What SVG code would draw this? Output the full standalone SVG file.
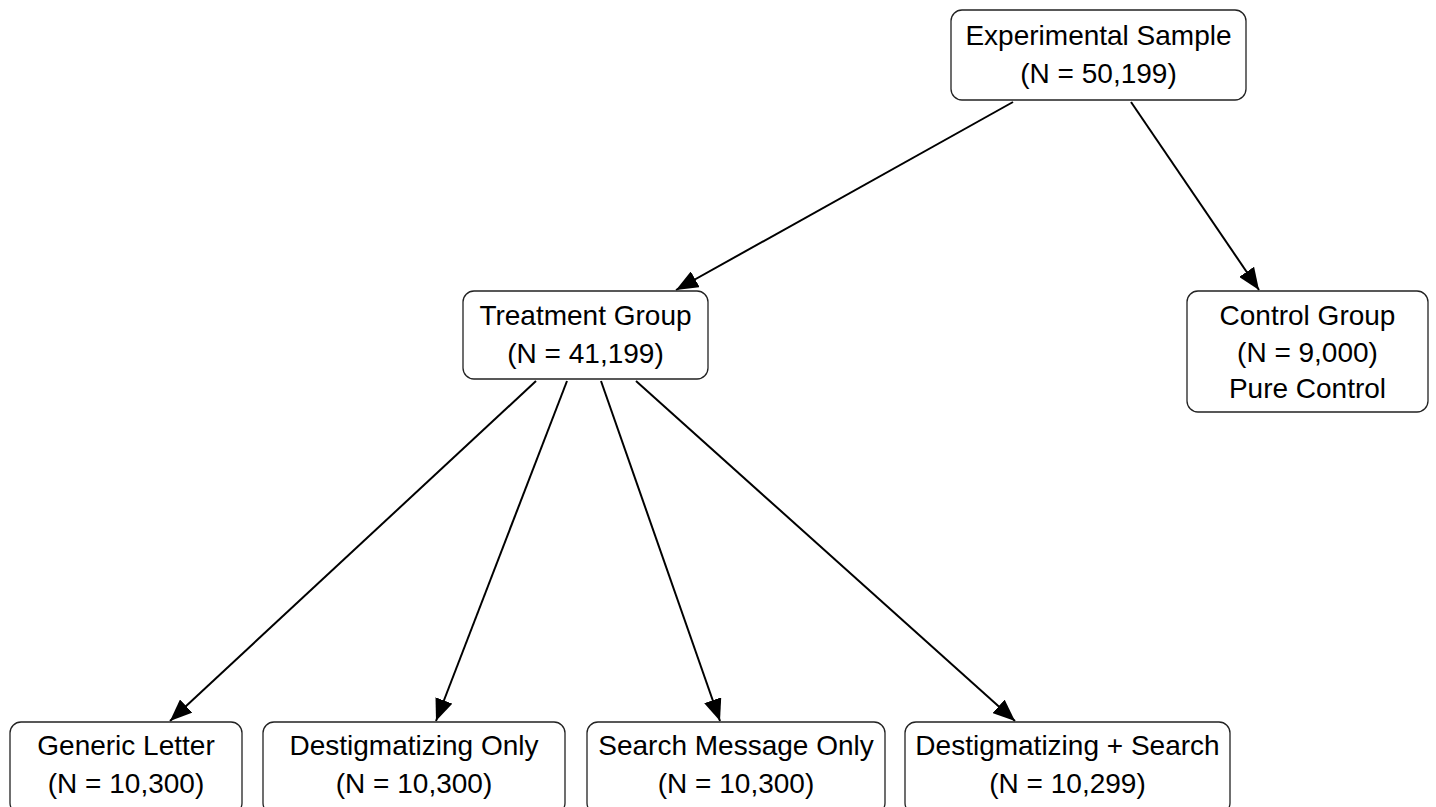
<svg xmlns="http://www.w3.org/2000/svg" width="1436" height="807" viewBox="0 0 1436 807">
<style>
  .box { fill: #ffffff; stroke: #222222; stroke-width: 1.3; }
  .lbl { font-family: "Liberation Sans", Arial, sans-serif; font-size: 28px; fill: #000000; text-anchor: middle; }
  .edge { stroke: #000000; stroke-width: 2; fill: none; marker-end: url(#arrow); }
</style>
<defs>
  <marker id="arrow" viewBox="0 0 22 18" refX="22" refY="9" markerWidth="22" markerHeight="18" markerUnits="userSpaceOnUse" orient="auto">
    <path d="M0,0 L22,9 L0,18 z" fill="#000000"/>
  </marker>
</defs>
<rect width="1436" height="807" fill="#ffffff"/>
<g id="connectors">
  <line class="edge" x1="1013" y1="102" x2="676" y2="290"/>
  <line class="edge" x1="1131" y1="102" x2="1259" y2="290"/>
  <line class="edge" x1="536" y1="381" x2="170" y2="721"/>
  <line class="edge" x1="567" y1="381" x2="436" y2="721"/>
  <line class="edge" x1="601" y1="381" x2="720" y2="721"/>
  <line class="edge" x1="636" y1="381" x2="1015" y2="721"/>
</g>
<g id="node-experimental">
  <rect class="box" x="951" y="10" width="295" height="90" rx="11"/>
  <text class="lbl" x="1098.5" y="45">Experimental Sample</text>
  <text class="lbl" x="1098.5" y="83">(N = 50,199)</text>
</g>
<g id="node-treatment">
  <rect class="box" x="463" y="291" width="245" height="88" rx="11"/>
  <text class="lbl" x="585.5" y="325">Treatment Group</text>
  <text class="lbl" x="585.5" y="363">(N = 41,199)</text>
</g>
<g id="node-control">
  <rect class="box" x="1187" y="291" width="241" height="121" rx="11"/>
  <text class="lbl" x="1307.5" y="325">Control Group</text>
  <text class="lbl" x="1307.5" y="362">(N = 9,000)</text>
  <text class="lbl" x="1307.5" y="398">Pure Control</text>
</g>
<g id="node-generic">
  <rect class="box" x="10" y="722" width="232" height="92" rx="11"/>
  <text class="lbl" x="126" y="755">Generic Letter</text>
  <text class="lbl" x="126" y="793">(N = 10,300)</text>
</g>
<g id="node-destig">
  <rect class="box" x="263" y="722" width="302" height="92" rx="11"/>
  <text class="lbl" x="414" y="755">Destigmatizing Only</text>
  <text class="lbl" x="414" y="793">(N = 10,300)</text>
</g>
<g id="node-search">
  <rect class="box" x="587" y="722" width="298" height="92" rx="11"/>
  <text class="lbl" x="736" y="755">Search Message Only</text>
  <text class="lbl" x="736" y="793">(N = 10,300)</text>
</g>
<g id="node-destig-search">
  <rect class="box" x="905" y="722" width="325" height="92" rx="11"/>
  <text class="lbl" x="1067.5" y="755">Destigmatizing + Search</text>
  <text class="lbl" x="1067.5" y="793">(N = 10,299)</text>
</g>
</svg>
